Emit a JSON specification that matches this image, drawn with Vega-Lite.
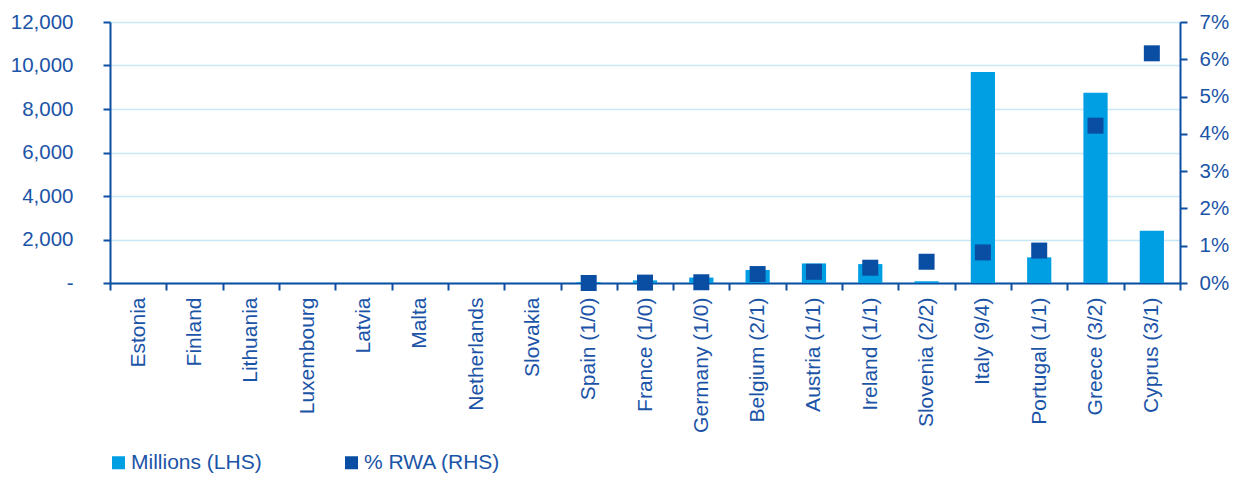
{
  "$schema": "https://vega.github.io/schema/vega-lite/v6.json",
  "width": 1070,
  "height": 261,
  "autosize": "none",
  "padding": {"left": 110, "top": 22, "right": 61, "bottom": 194},
  "config": {
    "view": {"stroke": null},
    "font": "Liberation Sans",
    "axis": {
      "domainColor": "#0B4EA2",
      "domainWidth": 2,
      "tickColor": "#0B4EA2",
      "tickWidth": 2,
      "tickSize": 7,
      "labelColor": "#1B54A7",
      "labelFont": "Liberation Sans",
      "labelFontSize": 20.5,
      "titleColor": "#1B54A7"
    },
    "legend": {
      "labelFont": "Liberation Sans",
      "labelFontSize": 21,
      "labelColor": "#1B54A7",
      "padding": 0
    }
  },
  "data": {
    "values": [
      {"country": "Estonia", "millions": 0, "rwa": null},
      {"country": "Finland", "millions": 0, "rwa": null},
      {"country": "Lithuania", "millions": 0, "rwa": null},
      {"country": "Luxembourg", "millions": 0, "rwa": null},
      {"country": "Latvia", "millions": 0, "rwa": null},
      {"country": "Malta", "millions": 0, "rwa": null},
      {"country": "Netherlands", "millions": 0, "rwa": null},
      {"country": "Slovakia", "millions": 0, "rwa": null},
      {"country": "Spain (1/0)", "millions": 40, "rwa": 0.0},
      {"country": "France (1/0)", "millions": 120, "rwa": 0.0001},
      {"country": "Germany (1/0)", "millions": 250, "rwa": 0.0002},
      {"country": "Belgium (2/1)", "millions": 600, "rwa": 0.0024},
      {"country": "Austria (1/1)", "millions": 900, "rwa": 0.0030},
      {"country": "Ireland (1/1)", "millions": 870, "rwa": 0.0041},
      {"country": "Slovenia (2/2)", "millions": 80, "rwa": 0.0057},
      {"country": "Italy (9/4)", "millions": 9700, "rwa": 0.0082},
      {"country": "Portugal (1/1)", "millions": 1180, "rwa": 0.0087},
      {"country": "Greece (3/2)", "millions": 8750, "rwa": 0.0422},
      {"country": "Cyprus (3/1)", "millions": 2400, "rwa": 0.0616}
    ]
  },
  "encoding": {
    "x": {
      "field": "country",
      "type": "nominal",
      "sort": null,
      "scale": {"paddingInner": 0, "paddingOuter": 0},
      "axis": {
        "title": null,
        "labelAngle": 270,
        "labelPadding": 7,
        "labelFontSize": 21,
        "tickBand": "extent",
        "labelLimit": 200
      }
    }
  },
  "layer": [
    {
      "mark": {"type": "bar", "width": {"band": 0.43}},
      "encoding": {
        "y": {
          "field": "millions",
          "type": "quantitative",
          "scale": {"domain": [0, 12000]},
          "axis": {
            "title": null,
            "orient": "left",
            "values": [0, 2000, 4000, 6000, 8000, 10000, 12000],
            "labelExpr": "datum.value == 0 ? '-' : format(datum.value, ',')",
            "labelPadding": 30,
            "grid": true,
            "gridColor": "#C6E8F7",
            "gridWidth": 1.5
          }
        },
        "color": {
          "datum": "Millions (LHS)",
          "type": "nominal",
          "scale": {
            "domain": ["Millions (LHS)", "% RWA (RHS)"],
            "range": ["#009FE3", "#0A4EA3"]
          },
          "legend": {
            "title": null,
            "orient": "none",
            "direction": "horizontal",
            "legendX": -2,
            "legendY": 430,
            "symbolType": "square",
            "symbolSize": 169,
            "symbolStrokeWidth": 0,
            "labelOffset": 2,
            "columnPadding": 79
          }
        }
      }
    },
    {
      "mark": {"type": "point", "shape": "square", "filled": true, "size": 256, "opacity": 1},
      "encoding": {
        "y": {
          "field": "rwa",
          "type": "quantitative",
          "scale": {"domain": [0, 0.07]},
          "axis": {
            "title": null,
            "orient": "right",
            "values": [0, 0.01, 0.02, 0.03, 0.04, 0.05, 0.06, 0.07],
            "format": ".0%",
            "labelPadding": 12,
            "grid": false
          }
        },
        "color": {"datum": "% RWA (RHS)", "type": "nominal"}
      }
    }
  ],
  "resolve": {"scale": {"y": "independent"}}
}
